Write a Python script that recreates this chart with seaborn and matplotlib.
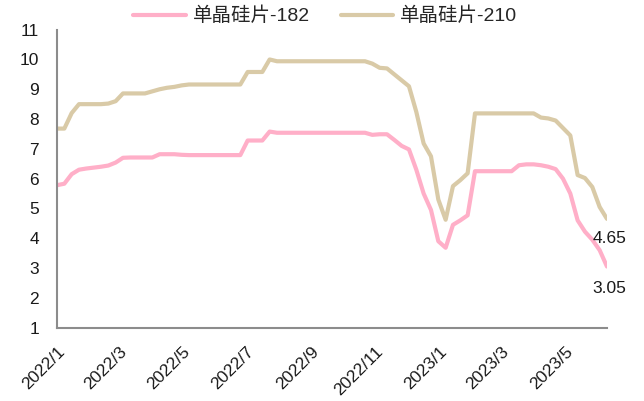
import pandas as pd
import seaborn as sns
import matplotlib.pyplot as plt
import matplotlib.dates as mdates
import matplotlib.ticker as mticker

#weekly prices
dates = pd.date_range("2022-01-01", periods=76, freq="7D")

wafer_182 = [5.78, 5.83, 6.15, 6.30, 6.34, 6.37, 6.40, 6.44, 6.54, 6.70,
             6.71, 6.71, 6.71, 6.71, 6.82, 6.82, 6.82, 6.80, 6.79, 6.79,
             6.79, 6.79, 6.79, 6.79, 6.79, 6.79, 7.28, 7.28, 7.28, 7.58,
             7.54, 7.54, 7.54, 7.54, 7.54, 7.54, 7.54, 7.54, 7.54, 7.54,
             7.54, 7.54, 7.54, 7.47, 7.49, 7.49, 7.30, 7.10, 6.98, 6.30,
             5.50, 4.95, 3.90, 3.68, 4.45, 4.60, 4.77, 6.25, 6.25, 6.25,
             6.25, 6.25, 6.25, 6.45, 6.48, 6.48, 6.45, 6.40, 6.32, 6.00,
             5.50, 4.60, 4.22, 3.95, 3.60, 3.05]

wafer_210 = [7.68, 7.68, 8.20, 8.50, 8.50, 8.50, 8.50, 8.52, 8.60, 8.86,
             8.86, 8.86, 8.86, 8.93, 9.00, 9.05, 9.08, 9.13, 9.16, 9.16,
             9.16, 9.16, 9.16, 9.16, 9.16, 9.16, 9.58, 9.58, 9.58, 10.00,
             9.94, 9.94, 9.94, 9.94, 9.94, 9.94, 9.94, 9.94, 9.94, 9.94,
             9.94, 9.94, 9.94, 9.86, 9.72, 9.70, 9.50, 9.30, 9.10, 8.24,
             7.18, 6.75, 5.30, 4.62, 5.75, 5.95, 6.18, 8.19, 8.19, 8.19,
             8.19, 8.19, 8.19, 8.19, 8.19, 8.19, 8.05, 8.02, 7.95, 7.70,
             7.45, 6.12, 6.02, 5.72, 5.05, 4.65]

names = ["单晶硅片-182", "单晶硅片-210"]
colors = ["#FFAFC8", "#D9CAA7"]

df = pd.DataFrame({"date": dates, names[0]: wafer_182, names[1]: wafer_210})
df = df.melt(id_vars="date", var_name="series", value_name="price")

sns.set_style("white")
plt.rcParams['font.family'] = ['Liberation Sans', 'Noto Sans CJK SC', 'DejaVu Sans']

fig = plt.figure(figsize=(6.44, 4.01), dpi=100)
ax = fig.add_axes([0.0885, 0.183, 0.854, 0.743])

sns.lineplot(data=df, x="date", y="price", hue="series", palette=colors,
             linewidth=3, ax=ax, legend=True)

ax.set_xlim(pd.Timestamp("2022-01-01"), pd.Timestamp("2023-06-10"))
ax.set_ylim(1, 11)
ax.yaxis.set_major_locator(mticker.MultipleLocator(1))
ax.xaxis.set_major_locator(mdates.MonthLocator(bymonth=[1, 3, 5, 7, 9, 11]))
ax.xaxis.set_major_formatter(mticker.FuncFormatter(
    lambda v, p: f"{mdates.num2date(v).year}/{mdates.num2date(v).month}"))
ax.set_xlabel("")
ax.set_ylabel("")

for s in ["top", "right"]:
    ax.spines[s].set_visible(False)
for s in ["left", "bottom"]:
    ax.spines[s].set_color("#8c8c8c")
    ax.spines[s].set_linewidth(1.5)
ax.tick_params(axis="both", direction="in", length=5, width=1.2, color="#8c8c8c",
               labelcolor="#1a1a1a")
ax.tick_params(axis="y", pad=13, labelsize=12.5)
ax.tick_params(axis="x", pad=12, labelsize=12.5)
plt.setp(ax.get_xticklabels(), rotation=45, ha="right", rotation_mode="anchor")

#end labels
ax.annotate("4.65", (dates[-1], wafer_210[-1]), xytext=(2, -14), textcoords="offset points",
            ha="center", va="center", fontsize=12.5, color="#1a1a1a")
ax.annotate("3.05", (dates[-1], wafer_182[-1]), xytext=(2, -16), textcoords="offset points",
            ha="center", va="center", fontsize=12.5, color="#1a1a1a")

handles, labels = ax.get_legend_handles_labels()
ax.get_legend().remove()
fig.legend(handles, labels, loc="center", bbox_to_anchor=(0.505, 0.96), ncol=2,
           frameon=False, fontsize=14, handlelength=2.7, columnspacing=1.6,
           handletextpad=0.35)

fig.savefig("out.png", dpi=100)
